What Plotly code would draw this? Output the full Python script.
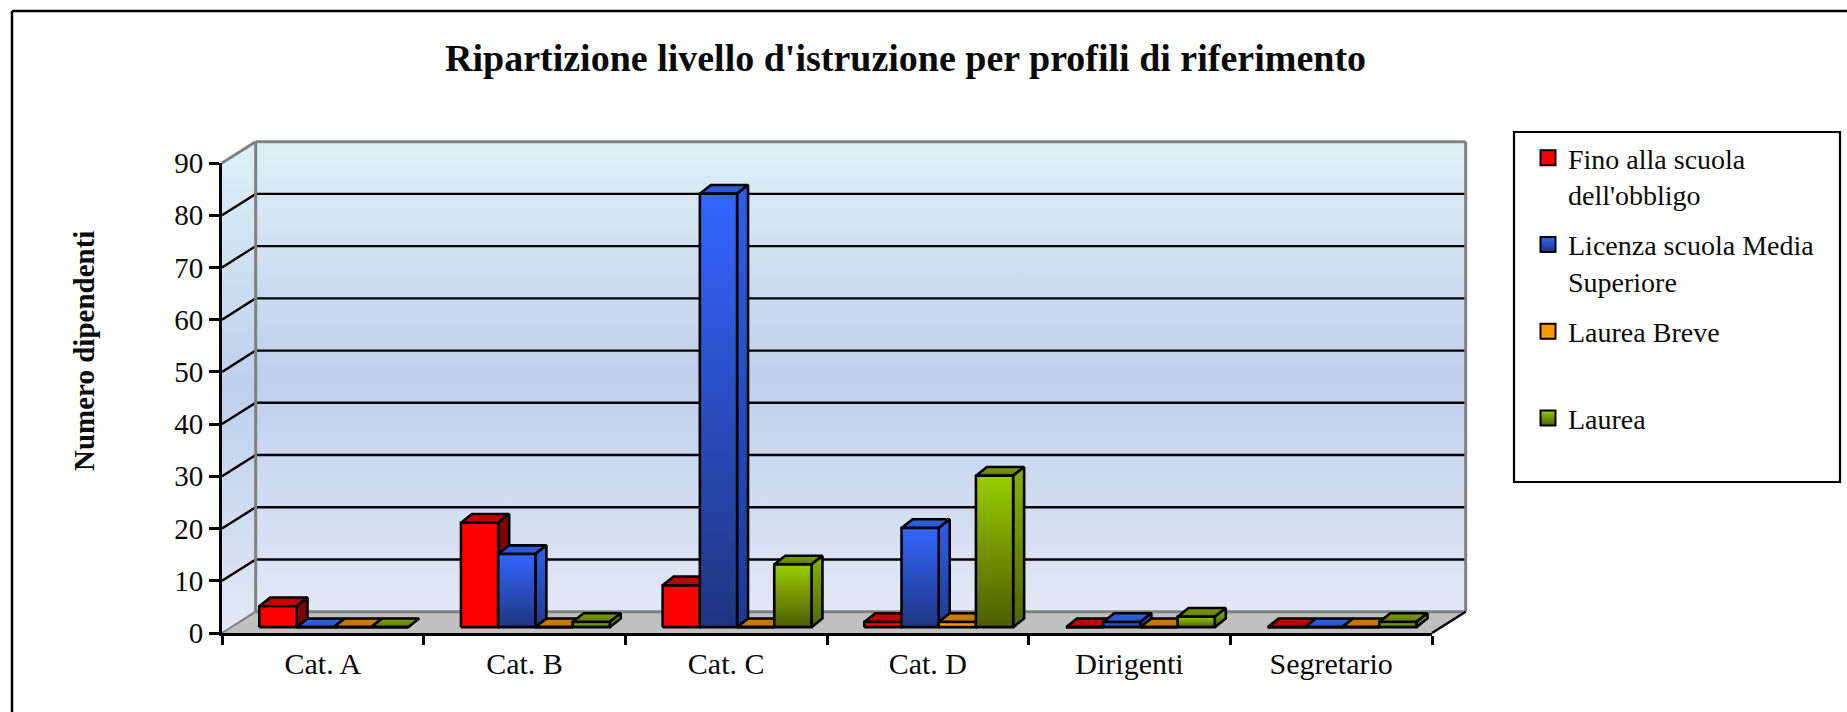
import plotly.graph_objects as go

categories = ["Cat. A", "Cat. B", "Cat. C", "Cat. D", "Dirigenti", "Segretario"]
fino = [4, 20, 8, 1, 0, 0]
licenza = [0, 14, 83, 19, 1, 0]
breve = [0, 0, 0, 1, 0, 0]
laurea = [0, 1, 12, 29, 2, 1]
series_names = ["Fino alla scuola<br>dell'obbligo", "Licenza scuola Media<br>Superiore", "Laurea Breve<br> ", "Laurea"]
y_ticks = [0, 10, 20, 30, 40, 50, 60, 70, 80, 90]

W, H = 1847, 712
PX0, PX1, PY0, PY1 = 222.0, 1432.0, 633.0, 163.0   # front plane in pixels
DX, DY = 0.167, 4.08       # wall depth in axis units
BDX, BDY = 0.0545, 1.667   # bar depth in axis units
BASE, START, BW = 1.12, -0.315, 0.1845
FONT = "Liberation Serif"
TXT = "#0a0a0a"

XU = (PX1 - PX0) / 6      # pixels per category
YU = (PY0 - PY1) / 90     # pixels per value

styles = [
    dict(front=["#ff0000", "#ff0000"], side=["#800000", "#800000"], top=["#c00000", "#c00000"]),
    dict(front=["#1f3580", "#3366ff"], side=["#1c3a90", "#2f5fe8"], top=["#2a55cc", "#2f5fe0"]),
    dict(front=["#ff9900", "#ff9900"], side=["#996000", "#996000"], top=["#c47a00", "#c47a00"]),
    dict(front=["#4d5c00", "#99cc00"], side=["#4f6600", "#86b300"], top=["#5d7a00", "#7f9f00"]),
]
values = [fino, licenza, breve, laurea]

fig = go.Figure()


def poly(xs, ys, colors=None, line="black", lw=2.6):
    kw = {}
    if colors is not None:
        kw = dict(fill="toself", fillgradient=dict(
            type="vertical",
            colorscale=[[i / (len(colors) - 1), c] for i, c in enumerate(colors)]))
    fig.add_trace(go.Scatter(x=xs, y=ys, mode="lines", showlegend=False,
                             hoverinfo="skip", line=dict(color=line, width=lw), **kw))


def seg(x0, y0, x1, y1, color, lw):
    fig.add_trace(go.Scatter(x=[x0, x1], y=[y0, y1], mode="lines",
                             showlegend=False, hoverinfo="skip",
                             line=dict(color=color, width=lw)))


xl, xr, ymax = -0.5, 5.5, 90
wall = ["#e2e8f5", "#bfcfec", "#dff0f6"]
# back wall, left wall, floor
poly([xl + DX, xr + DX, xr + DX, xl + DX, xl + DX], [DY, DY, ymax + DY, ymax + DY, DY], wall, "rgba(0,0,0,0)", 0)
poly([xl, xl + DX, xl + DX, xl, xl], [0, DY, ymax + DY, ymax, 0], wall, "rgba(0,0,0,0)", 0)
poly([xl, xr, xr + DX, xl + DX, xl], [0, 0, DY, DY, 0], ["#c0c0c0", "#c0c0c0"], "rgba(0,0,0,0)", 0)
# gridlines
for t in y_ticks[1:-1]:
    seg(xl, t, xl + DX, t + DY, "black", 2.4)
    seg(xl + DX, t + DY, xr + DX, t + DY, "black", 2.4)
# wall edges
G = "#808080"
seg(xl + DX, DY, xl + DX, ymax + DY, G, 3)
seg(xl + DX, ymax + DY, xr + DX, ymax + DY, G, 3)
seg(xr + DX, DY, xr + DX, ymax + DY, G, 3)
seg(xl, ymax, xl + DX, ymax + DY, G, 3)
seg(xl, 0, xl + DX, DY, G, 2)
seg(xl + DX, DY, xr + DX, DY, G, 3)
seg(xr, 0, xr + DX, DY, "black", 2.5)

# bars, left to right so that later bars overlap earlier side faces
for c in range(len(categories)):
    for s, vals in enumerate(values):
        v = vals[c]
        x0 = c + START + s * BW
        x1 = x0 + BW
        y0 = BASE
        y1 = BASE + v
        st = styles[s]
        poly([x0, x1, x1 + BDX, x0 + BDX, x0], [y1, y1, y1 + BDY, y1 + BDY, y1], st["top"])
        if v > 0:
            poly([x1, x1 + BDX, x1 + BDX, x1, x1], [y0, y0 + BDY, y1 + BDY, y1, y0], st["side"])
            poly([x0, x1, x1, x0, x0], [y0, y0, y1, y1, y0], st["front"])
        else:
            seg(x0, y0, x1, y0, "black", 2.6)

# legend entries, drawn on the visible axes
for name, st in zip(series_names, styles):
    fig.add_trace(go.Scatter(
        x=[None], y=[None], mode="markers", name=name, legendgroup=name, xaxis="x2", yaxis="y2",
        marker=dict(symbol="square", size=15, color=st["front"][1],
                    gradient=dict(type="vertical", color=st["front"][0]),
                    line=dict(color="black", width=2))))

fig.update_layout(
    template="none",
    width=W, height=H, margin=dict(l=0, r=0, t=0, b=0, pad=0), autosize=False,
    paper_bgcolor="white", plot_bgcolor="rgba(0,0,0,0)",
    font=dict(family=FONT, color=TXT, size=29),
    showlegend=True,
    legend=dict(x=1528 / W, y=1 - 133 / H, xanchor="left", yanchor="top", valign="top",
                bgcolor="rgba(0,0,0,0)", tracegroupgap=11, itemclick=False,
                font=dict(family=FONT, size=28, color=TXT), traceorder="grouped"),
    # full-page axes that carry the marks
    xaxis=dict(domain=[0, 1], range=[(0 - PX0) / XU - 0.5, (W - PX0) / XU - 0.5], visible=False, automargin=False),
    yaxis=dict(domain=[0, 1], range=[(PY0 - H) / YU, PY0 / YU], visible=False, automargin=False),
    # visible axes on the front plane, same scale
    xaxis2=dict(domain=[PX0 / W, PX1 / W], range=[xl, xr], anchor="y2", tickmode="array",
                tickvals=list(range(6)), ticktext=categories, ticks="", ticklabelstandoff=2,
                tickfont=dict(family=FONT, size=30, color=TXT),
                showgrid=False, zeroline=False, showline=True, linecolor="black", linewidth=3,
                automargin=False,
                minor=dict(tickmode="array", tickvals=[i - 0.5 for i in range(7)], ticks="outside",
                           ticklen=9, tickwidth=2.5, tickcolor="black", showgrid=False)),
    yaxis2=dict(domain=[1 - PY0 / H, 1 - PY1 / H], range=[0, 90], anchor="x2", tickmode="array",
                tickvals=y_ticks, ticks="outside", ticklen=10, tickwidth=2.5, tickcolor="black",
                tickfont=dict(family=FONT, size=29, color=TXT),
                showgrid=False, zeroline=False, showline=True, linecolor="black", linewidth=3,
                automargin=False),
    annotations=[
        dict(text="<b>Ripartizione livello d'istruzione per profili di riferimento</b>",
             xref="paper", yref="paper", x=905 / W, y=1 - 58 / H, xanchor="center", yanchor="middle",
             showarrow=False, font=dict(family=FONT, size=38, color=TXT)),
        dict(text="<b>Numero dipendenti</b>", xref="paper", yref="paper", x=84 / W, y=1 - 351 / H,
             xanchor="center", yanchor="middle", textangle=-90, showarrow=False,
             font=dict(family=FONT, size=29, color=TXT)),
    ],
    shapes=[
        dict(type="line", xref="paper", yref="paper", x0=12 / W, x1=12 / W, y0=0, y1=1 - 11 / H,
             line=dict(color="black", width=2.5)),
        dict(type="line", xref="paper", yref="paper", x0=12 / W, x1=1, y0=1 - 11 / H, y1=1 - 11 / H,
             line=dict(color="black", width=2.5)),
        dict(type="rect", xref="paper", yref="paper", x0=1514 / W, x1=1840 / W,
             y0=1 - 482 / H, y1=1 - 132 / H, line=dict(color="black", width=2.2)),
    ],
)

fig.write_html("out.html", config=dict(displayModeBar=False),
               post_script="document.body.style.margin='0';document.body.style.overflow='hidden';")
